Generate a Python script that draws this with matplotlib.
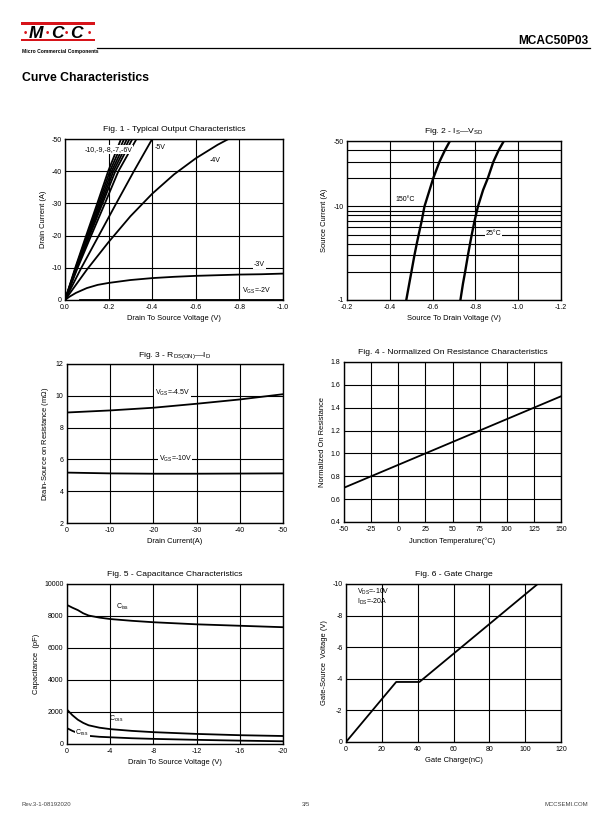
import numpy as np
import matplotlib
matplotlib.use('Agg')
import matplotlib.pyplot as plt
from matplotlib.patches import Rectangle
from matplotlib.lines import Line2D

plt.rcParams['font.family'] = ['Liberation Sans', 'DejaVu Sans']
plt.rcParams['mathtext.fontset'] = 'custom'
plt.rcParams['mathtext.rm'] = 'Liberation Sans'
plt.rcParams['axes.unicode_minus'] = False

# Fig. 1 - output characteristics (V, A)
id_levels = [0, -10, -20, -30, -40, -50]
vds_bundle = [
    [0, -0.047, -0.097, -0.148, -0.198, -0.257],
    [0, -0.049, -0.101, -0.154, -0.206, -0.271],
    [0, -0.051, -0.105, -0.160, -0.214, -0.284],
    [0, -0.053, -0.109, -0.166, -0.222, -0.296],
    [0, -0.055, -0.113, -0.172, -0.231, -0.309],
    [0, -0.058, -0.120, -0.183, -0.245, -0.328],
]
vds_5v = [0, -0.075, -0.155, -0.235, -0.316, -0.40]
vds_4v = [0, -0.1, -0.2, -0.3, -0.4, -0.5, -0.6, -0.7, -0.75]
id_4v = [0, -9.4, -18, -26, -33, -39, -44, -48.2, -50]
vds_3v = [0, -0.02, -0.05, -0.1, -0.15, -0.2, -0.3, -0.4, -0.5, -0.6, -0.7, -0.8, -0.9, -1.0]
id_3v = [0, -1.0, -2.2, -3.7, -4.7, -5.3, -6.2, -6.8, -7.2, -7.5, -7.7, -7.9, -8.0, -8.2]
vds_2v = [-0.07, -1.0]
id_2v = [-0.15, -0.15]

# Fig. 2 - body diode (A, V)
is_levels = [1, 1.5, 2, 3, 4, 5, 7, 10, 15, 20, 30, 40, 50]
vsd_150 = [-0.477, -0.491, -0.501, -0.515, -0.526, -0.535, -0.549, -0.562, -0.586, -0.603,
           -0.632, -0.658, -0.681]
vsd_25 = [-0.730, -0.742, -0.752, -0.765, -0.775, -0.783, -0.796, -0.812, -0.836, -0.858,
          -0.884, -0.909, -0.933]

# Fig. 3 - Rds(on) vs Id (A, mOhm)
id_rds = [0, -10, -20, -30, -40, -50]
rds_45 = [8.95, 9.08, 9.25, 9.5, 9.77, 10.1]
rds_10 = [5.17, 5.12, 5.10, 5.10, 5.11, 5.12]

# Fig. 4 - normalized Rds(on) vs Tj
tj = [-50, 150]
rds_norm = [0.7, 1.5]

# Fig. 5 - capacitance (V, pF)
vds_cap = [0, -0.5, -1, -1.5, -2, -3, -4, -6, -8, -12, -16, -20]
ciss = [8690, 8520, 8370, 8170, 8030, 7900, 7810, 7700, 7610, 7480, 7390, 7300]
coss = [2150, 1800, 1520, 1320, 1170, 1020, 930, 820, 740, 630, 550, 500]
crss = [990, 820, 680, 580, 510, 450, 420, 360, 320, 260, 210, 170]

# Fig. 6 - gate charge (nC, V)
qg = [0, 28, 41, 107]
vgs_qg = [0, -3.8, -3.8, -10]

W, H = 612, 825
fig = plt.figure(figsize=(W / 100, H / 100), dpi=100)

fs_title = 6.1
fs_label = 5.4
fs_tick = 5.0
fs_note = 5.0
lw_curve = 1.3
lw_grid = 0.8
white = dict(facecolor='white', edgecolor='none', pad=0.6)


def px_axes(l, t, r, b):
    return fig.add_axes([l / W, 1 - b / H, (r - l) / W, (b - t) / H])


def style(ax, title, xlabel, ylabel, ylabelpad=3):
    ax.set_title(title, fontsize=fs_title, pad=5.5)
    ax.set_xlabel(xlabel, fontsize=fs_label, labelpad=2.5)
    ax.set_ylabel(ylabel, fontsize=fs_label, labelpad=ylabelpad)
    ax.tick_params(length=0, labelsize=fs_tick)
    ax.tick_params(axis='x', pad=3.2)
    ax.tick_params(axis='y', pad=2.5)
    ax.grid(True, color='black', linewidth=lw_grid)
    ax.set_axisbelow(True)
    for s in ax.spines.values():
        s.set_linewidth(1.0)


# ---- Fig. 1
ax1 = px_axes(65, 139, 283, 300)
for v in vds_bundle:
    ax1.plot(v, id_levels, color='black', lw=lw_curve)
ax1.plot(vds_5v, id_levels, color='black', lw=lw_curve)
ax1.plot(vds_4v, id_4v, color='black', lw=lw_curve)
ax1.plot(vds_3v, id_3v, color='black', lw=lw_curve)
ax1.plot(vds_2v, id_2v, color='black', lw=lw_curve)
ax1.set_xlim(0, -1.0)
ax1.set_ylim(0, -50)
ax1.set_xticks(np.arange(0, -1.01, -0.2))
ax1.set_xticklabels(['0.0', '-0.2', '-0.4', '-0.6', '-0.8', '-1.0'])
ax1.set_yticks([0, -10, -20, -30, -40, -50])
ax1.set_yticklabels(['0', '-10', '-20', '-30', '-40', '-50'])
style(ax1, 'Fig. 1 - Typical Output Characteristics', 'Drain To Source Voltage (V)', 'Drain Current (A)')
ax1.text(-0.20, -46.8, '-10,-9,-8,-7,-6V', fontsize=fs_note, ha='center', va='center', bbox=white)
ax1.text(-0.413, -47.4, '-5V', fontsize=fs_note, ha='left', va='center', bbox=white)
ax1.text(-0.69, -43.2, '-4V', fontsize=fs_note, ha='center', va='center')
ax1.text(-0.893, -10.9, '-3V', fontsize=fs_note, ha='center', va='center', bbox=white)
ax1.text(-0.88, -2.9, r'$\mathregular{V_{GS}}$=-2V', fontsize=fs_note, ha='center', va='center')

# ---- Fig. 2
ax2 = px_axes(347, 141, 561, 300)
ax2.plot(vsd_150, is_levels, color='black', lw=lw_curve + 0.4)
ax2.plot(vsd_25, is_levels, color='black', lw=lw_curve + 0.4)
ax2.set_yscale('log')
ax2.set_xlim(-0.2, -1.2)
ax2.set_ylim(1, 50)
ax2.set_xticks(np.arange(-0.2, -1.21, -0.2))
ax2.set_xticklabels(['-0.2', '-0.4', '-0.6', '-0.8', '-1.0', '-1.2'])
ax2.set_yticks([1, 10, 50])
ax2.set_yticklabels(['-1', '-10', '-50'])
ax2.set_yticks([2, 3, 4, 5, 6, 7, 8, 9, 20, 30, 40], minor=True)
ax2.set_yticklabels([], minor=True)
style(ax2, r'Fig. 2 - $\mathregular{I_S}$—$\mathregular{V_{SD}}$', 'Source To Drain Voltage (V)',
      'Source Current (A)', ylabelpad=4)
ax2.grid(True, which='minor', axis='y', color='black', linewidth=lw_grid)
ax2.tick_params(which='minor', length=0)
ax2.text(-0.47, 11.9, '150°C', fontsize=fs_note, ha='center', va='center', bbox=white)
ax2.text(-0.884, 5.1, '25°C', fontsize=fs_note, ha='center', va='center', bbox=white)

# ---- Fig. 3
ax3 = px_axes(67, 364, 283, 523)
ax3.plot(id_rds, rds_45, color='black', lw=lw_curve)
ax3.plot(id_rds, rds_10, color='black', lw=lw_curve)
ax3.set_xlim(0, -50)
ax3.set_ylim(2, 12)
ax3.set_xticks([0, -10, -20, -30, -40, -50])
ax3.set_xticklabels(['0', '-10', '-20', '-30', '-40', '-50'])
ax3.set_yticks([2, 4, 6, 8, 10, 12])
style(ax3, r'Fig. 3 - $\mathregular{R_{DS(ON)}}$—$\mathregular{I_D}$', 'Drain Current(A)',
      r'Drain-Source on Resistance (m$\mathregular{\Omega}$)')
ax3.text(-24.4, 10.2, r'$\mathregular{V_{GS}}$=-4.5V', fontsize=fs_note, ha='center', va='center', bbox=white)
ax3.text(-25.0, 6.0, r'$\mathregular{V_{GS}}$=-10V', fontsize=fs_note, ha='center', va='center', bbox=white)

# ---- Fig. 4
ax4 = px_axes(344, 362, 561, 522)
ax4.plot(tj, rds_norm, color='black', lw=lw_curve)
ax4.set_xlim(-50, 150)
ax4.set_ylim(0.4, 1.8)
ax4.set_xticks(np.arange(-50, 151, 25))
ax4.set_yticks(np.arange(0.4, 1.81, 0.2))
ax4.set_yticklabels(['0.4', '0.6', '0.8', '1.0', '1.2', '1.4', '1.6', '1.8'])
style(ax4, 'Fig. 4 - Normalized On Resistance Characteristics', 'Junction Temperature(°C)',
      'Normalized On Resistance')

# ---- Fig. 5
ax5 = px_axes(67, 584, 283, 744)
ax5.plot(vds_cap, ciss, color='black', lw=lw_curve)
ax5.plot(vds_cap, coss, color='black', lw=lw_curve)
ax5.plot(vds_cap, crss, color='black', lw=lw_curve)
ax5.set_xlim(0, -20)
ax5.set_ylim(0, 10000)
ax5.set_xticks([0, -4, -8, -12, -16, -20])
ax5.set_xticklabels(['0', '-4', '-8', '-12', '-16', '-20'])
ax5.set_yticks([0, 2000, 4000, 6000, 8000, 10000])
style(ax5, 'Fig. 5 - Capacitance Characteristics', 'Drain To Source Voltage (V)', 'Capacitance  (pF)')
ax5.text(-5.1, 8580, r'$\mathregular{C_{iss}}$', fontsize=fs_note, ha='center', va='center')
ax5.text(-4.6, 1540, r'$\mathregular{C_{oss}}$', fontsize=fs_note, ha='center', va='center')
ax5.text(-1.4, 680, r'$\mathregular{C_{rss}}$', fontsize=fs_note, ha='center', va='center', bbox=white)

# ---- Fig. 6
ax6 = px_axes(346, 584, 561, 742)
ax6.plot(qg, vgs_qg, color='black', lw=lw_curve)
ax6.set_xlim(0, 120)
ax6.set_ylim(0, -10)
ax6.set_xticks(np.arange(0, 121, 20))
ax6.set_yticks([0, -2, -4, -6, -8, -10])
ax6.set_yticklabels(['0', '-2', '-4', '-6', '-8', '-10'])
style(ax6, 'Fig. 6 - Gate Charge', 'Gate Charge(nC)', 'Gate-Source  Voltage (V)')
ax6.text(6, -9.47, r'$\mathregular{V_{DS}}$=-10V', fontsize=fs_note, ha='left', va='center')
ax6.text(6, -8.84, r'$\mathregular{I_{DS}}$=-20A', fontsize=fs_note, ha='left', va='center')

# ---- header
red = '#d7141a'
fig.add_artist(Rectangle((21 / W, 1 - 24.8 / H), 74 / W, 2.8 / H, transform=fig.transFigure,
                         facecolor=red, edgecolor='none'))
fig.add_artist(Rectangle((21 / W, 1 - 41.4 / H), 74 / W, 2.8 / H, transform=fig.transFigure,
                         facecolor=red, edgecolor='none'))
for xp, ch in [(35.5, 'M'), (57, 'C'), (76.5, 'C')]:
    fig.text(xp / W, 1 - 33 / H, ch, fontsize=12.5, fontweight='bold', fontstyle='italic',
             color='black', ha='center', va='center')
for xp in [25, 47, 66.5, 89]:
    fig.text(xp / W, 1 - 33 / H, '•', fontsize=7, fontweight='bold', color=red,
             ha='center', va='center')
fig.text(22 / W, 1 - 51 / H, 'Micro Commercial Components', fontsize=3.6, fontweight='bold',
         ha='left', va='center')
fig.add_artist(Line2D([97 / W, 590 / W], [1 - 47.5 / H, 1 - 47.5 / H], transform=fig.transFigure,
                      color='black', lw=0.9))
fig.text(588 / W, 1 - 41.5 / H, 'MCAC50P03', fontsize=8.6, fontweight='bold', ha='right', va='center')
fig.text(22 / W, 1 - 78 / H, 'Curve Characteristics', fontsize=8.8, fontweight='bold',
         ha='left', va='center')

# ---- footer
fig.text(22 / W, 1 - 805 / H, 'Rev.3-1-08192020', fontsize=4.3, color='#444444', ha='left', va='center')
fig.text(306 / W, 1 - 805 / H, '3/5', fontsize=4.3, color='#444444', ha='center', va='center')
fig.text(588 / W, 1 - 805 / H, 'MCCSEMI.COM', fontsize=4.3, color='#444444', ha='right', va='center')

fig.savefig('out.png', dpi=100)
